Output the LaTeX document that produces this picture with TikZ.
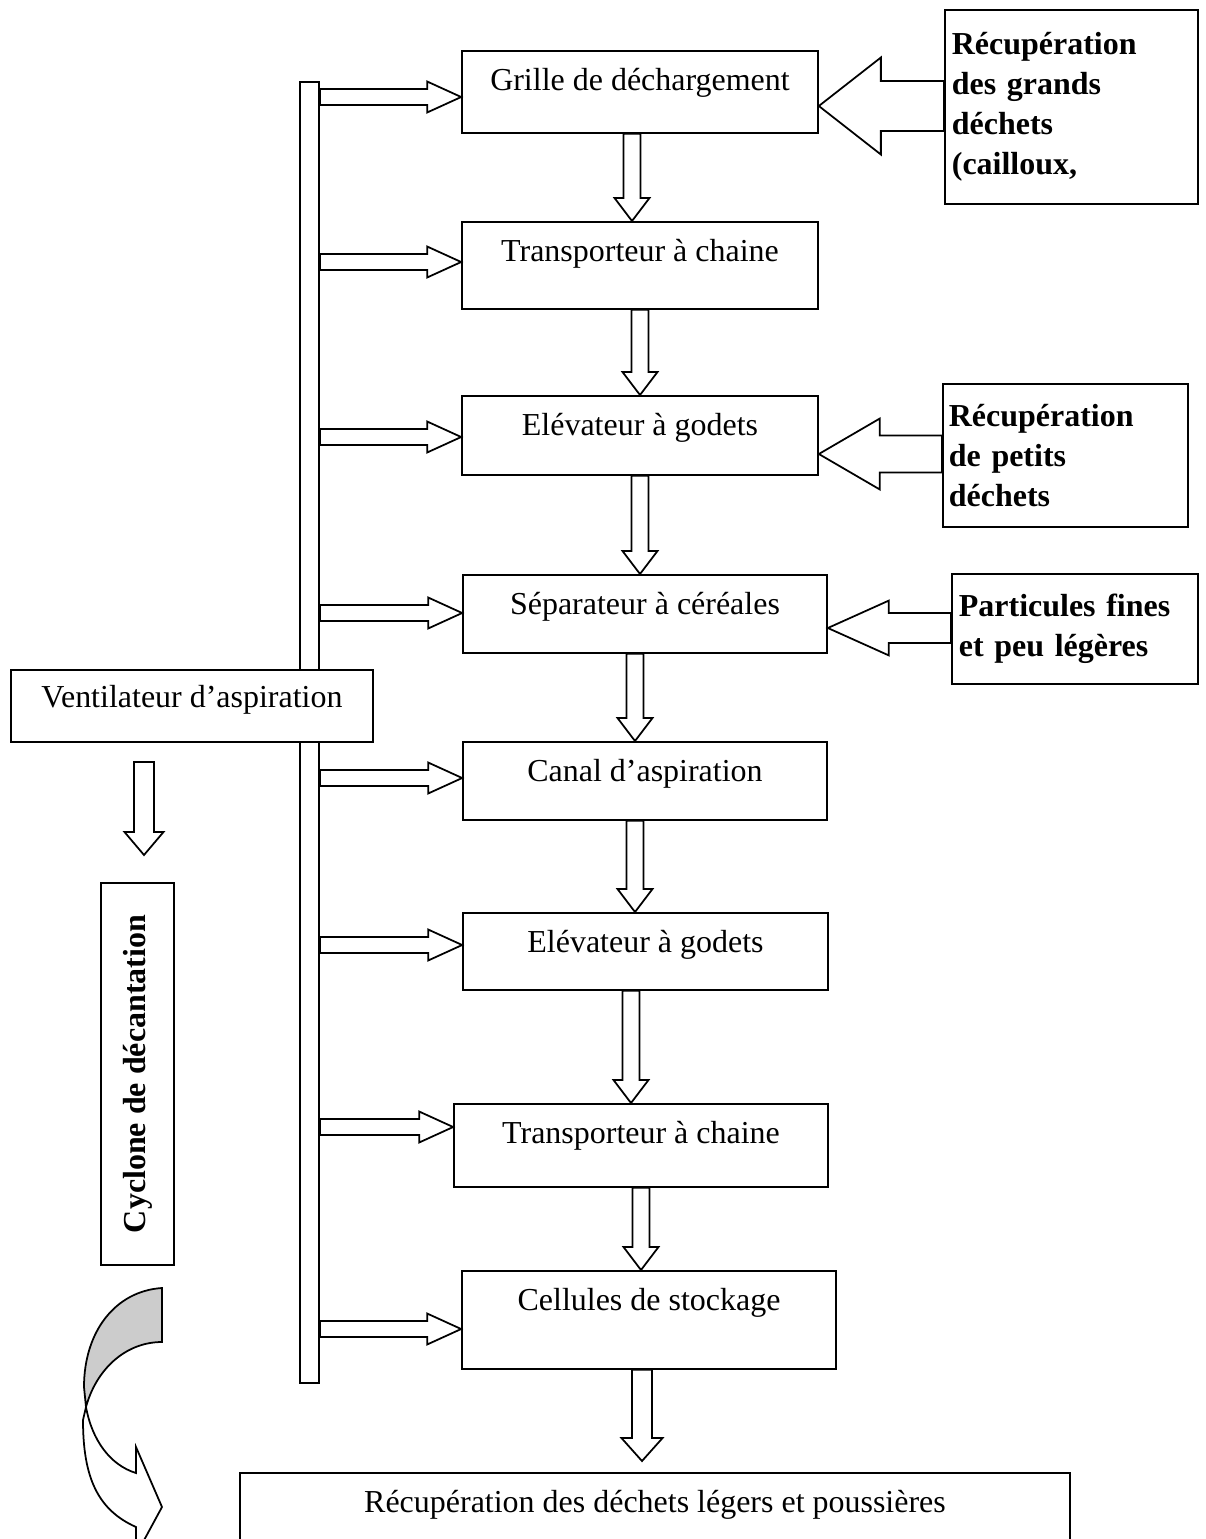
\documentclass[tikz,border=0pt]{standalone}
\usepackage{fontspec}
\setmainfont{Liberation Serif}
\usetikzlibrary{calc}

\definecolor{backgray}{HTML}{CCCCCC}
\newcommand{\mainsize}{\fontsize{18.2pt}{22.8pt}\selectfont}

\tikzset{
  stage/.style={draw, line width=1pt, fill=white, anchor=north, inner sep=0pt, text height=0.8cm, font=\mainsize},
  note/.style={draw, line width=1pt, anchor=north west, align=left, inner xsep=0.14cm, font=\mainsize\bfseries},
  flow/.style={draw, line width=1pt, fill=white, line join=miter},
}

% hollow arrow down: x, from, to, shaft half, head half, head length
\newcommand{\vflow}[6]{\draw[flow] let \p1=(#1,0 |- #2), \p2=(#1,0 |- #3) in
  ({\x1-#4},\y1) -- ({\x1-#4},{\y2+#6}) -- ({\x1-#5},{\y2+#6}) -- (\x2,\y2)
  -- ({\x1+#5},{\y2+#6}) -- ({\x1+#4},{\y2+#6}) -- ({\x1+#4},\y1) -- cycle;}
% hollow arrow right, from the bar
\newcommand{\hflow}[3]{\draw[flow] let \p1=(#1.east |- 0,#3), \p2=(#2.west |- 0,#3) in
  (\x1,{\y1+4.55pt}) -- ({\x2-19.3pt},{\y1+4.55pt}) -- ({\x2-19.3pt},{\y1+8.8pt}) -- (\x2,\y1)
  -- ({\x2-19.3pt},{\y1-8.8pt}) -- ({\x2-19.3pt},{\y1-4.55pt}) -- (\x1,{\y1-4.55pt}) -- cycle;}
% hollow arrow left: from, to, y, shaft half, head half, head length
\newcommand{\lflow}[6]{\draw[flow] let \p1=(#1.west |- 0,#3), \p2=(#2.east |- 0,#3) in
  (\x1,{\y1+#4}) -- ({\x2+#6},{\y1+#4}) -- ({\x2+#6},{\y1+#5}) -- (\x2,\y1)
  -- ({\x2+#6},{\y1-#5}) -- ({\x2+#6},{\y1-#4}) -- (\x1,{\y1-#4}) -- cycle;}

\begin{document}
\begin{tikzpicture}[x=0.02cm, y=-0.02cm, line width=1pt]

  \useasboundingbox (0,0) rectangle (1205,1539);
  \clip (0,0) rectangle (1205,1539);

  % suction bar
  \node[draw, minimum width=0.38cm, minimum height=26.02cm, inner sep=0pt] (bar) at (309.5,732.5) {};

  % main line
  \node[stage, minimum width=7.12cm, text depth=0.84cm] (grille) at (640,50) {Grille de déchargement};
  \node[stage, minimum width=7.12cm, text depth=0.94cm] (trans) at (640,221) {Transporteur à chaine};
  \node[stage, minimum width=7.12cm, text depth=0.78cm] (elev) at (640,395) {Elévateur à godets};
  \node[stage, minimum width=7.28cm, text depth=0.76cm] (sep) at (645,574) {Séparateur à céréales};
  \node[stage, minimum width=7.28cm, text depth=0.76cm] (canal) at (645,741) {Canal d’aspiration};
  \node[stage, minimum width=7.30cm, text depth=0.74cm] (elevb) at (645.5,912) {Elévateur à godets};
  \node[stage, minimum width=7.48cm, text depth=0.86cm] (transb) at (641,1103) {Transporteur à chaine};
  \node[stage, minimum width=7.48cm, text depth=1.16cm] (cell) at (649,1270) {Cellules de stockage};
  \node[stage, minimum width=16.6cm, text depth=1cm] (recup) at (655,1472) {Récupération des déchets légers et poussières};

  % fan and cyclone
  \node[stage, minimum width=7.24cm, text height=0.76cm, text depth=0.68cm] (vent) at (192,669) {Ventilateur d’aspiration};
  \node[draw, rotate=90, minimum width=7.64cm, minimum height=1.46cm, inner sep=0pt, font=\mainsize\bfseries] (cyclone) at (137.5,1074) {Cyclone de décantation};

  % waste boxes
  \node[note, text width=4.78cm, minimum height=3.88cm] (grands) at (944,9) {Récupération\\des grands\\déchets\\(cailloux,};
  \node[note, text width=4.66cm, inner xsep=0.12cm, minimum height=2.86cm] (petits) at (942,383) {Récupération\\de petits\\déchets};
  \node[note, text width=4.64cm, minimum height=2.2cm] (fines) at (951,573) {Particules fines\\et peu légères};

  % arrows from the bar
  \foreach \stg/\ay in {grille/97, trans/262, elev/437, sep/613, canal/778, elevb/945, transb/1127, cell/1329}
    {\hflow{bar}{\stg}{\ay}}

  % arrows down the line
  \vflow{632}{grille.south}{trans.north}{4.84pt}{9.96pt}{13.1pt}
  \vflow{640}{trans.south}{elev.north}{4.84pt}{9.96pt}{13.1pt}
  \vflow{640}{elev.south}{sep.north}{4.84pt}{9.96pt}{13.1pt}
  \vflow{635}{sep.south}{canal.north}{4.84pt}{9.96pt}{13.1pt}
  \vflow{635}{canal.south}{elevb.north}{4.84pt}{9.96pt}{13.1pt}
  \vflow{631}{elevb.south}{transb.north}{4.84pt}{9.96pt}{13.1pt}
  \vflow{641}{transb.south}{cell.north}{4.84pt}{9.96pt}{13.1pt}
  \coordinate (rtip) at (642,1461);
  \vflow{642}{cell.south}{rtip}{5.7pt}{11.7pt}{13.1pt}

  \coordinate (vtop) at (144,762);
  \coordinate (vtip) at (144,855);
  \vflow{144}{vtop}{vtip}{5.7pt}{11.1pt}{13.1pt}

  % arrows from the waste boxes
  \lflow{grands}{grille}{106}{14.2pt}{27.6pt}{35.3pt}
  \lflow{petits}{elev}{454}{10.5pt}{20.2pt}{34.7pt}
  \lflow{fines}{sep}{628}{8.5pt}{15.6pt}{34.7pt}

  % curved arrow
  \filldraw[fill=backgray] (162,1288) .. controls (115,1291) and (84,1332) .. (84,1387)
    -- (86,1407) .. controls (96,1370) and (125,1342) .. (162,1342) -- cycle;
  \filldraw[fill=white] (86,1407) .. controls (92,1440) and (110,1465) .. (136,1473)
    -- (136,1447) -- (162,1507) -- (136,1555) -- (136,1527)
    .. controls (98,1510) and (83,1478) .. (83,1420) -- cycle;

\end{tikzpicture}
\end{document}
